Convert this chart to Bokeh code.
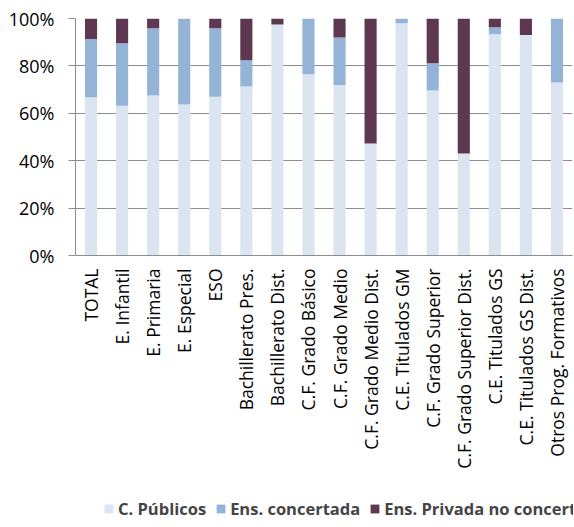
import math
from bokeh.plotting import figure
from bokeh.layouts import column
from bokeh.models import FixedTicker, PrintfTickFormatter, Legend, LegendItem, FactorRange
from bokeh.embed import file_html
from bokeh.resources import INLINE

categories = ["TOTAL", "E. Infantil", "E. Primaria", "E. Especial", "ESO",
              "Bachillerato Pres.", "Bachillerato Dist.", "C.F. Grado Básico",
              "C.F. Grado Medio", "C.F. Grado Medio Dist.", "C.E. Titulados GM",
              "C.F. Grado Superior", "C.F. Grado Superior Dist.", "C.E. Titulados GS",
              "C.E. Titulados GS Dist.", "Otros Prog. Formativos"]
publicos = [66.8, 63.2, 67.5, 63.7, 67.0, 71.3, 97.5, 76.5, 71.9, 47.3, 98.0, 69.6, 43.0, 93.4, 93.0, 73.0]
concertada = [24.6, 26.4, 28.4, 36.3, 28.9, 11.1, 0.0, 23.5, 20.1, 0.0, 2.0, 11.5, 0.0, 2.9, 0.0, 27.0]
privada = [8.6, 10.4, 4.1, 0.0, 4.1, 17.6, 2.5, 0.0, 8.0, 52.7, 0.0, 18.9, 57.0, 3.7, 7.0, 0.0]
series = ["C. Públicos", "Ens. concertada", "Ens. Privada no concertada"]
colors = ["#dbe5f1", "#95b3d7", "#5e3751"]
yticks = [0, 20, 40, 60, 80, 100]

data = {"cat": categories, "C. Públicos": publicos, "Ens. concertada": concertada,
        "Ens. Privada no concertada": privada}

p = figure(x_range=FactorRange(*categories), y_range=(0, 100),
           frame_width=497, frame_height=237,
           output_backend="svg", toolbar_location=None,
           min_border_left=75, min_border_top=18, min_border_right=1, min_border_bottom=243)
p.outline_line_color = None
p.background_fill_color = "white"
p.border_fill_color = "white"

r = p.vbar_stack(series, x="cat", width=0.39, color=colors, source=data, line_color=None)

p.x_range.range_padding = 0
p.xgrid.grid_line_color = None
p.ygrid.grid_line_color = "#8c8c8c"
p.ygrid.grid_line_width = 1
p.yaxis.ticker = FixedTicker(ticks=yticks)
p.yaxis.formatter = PrintfTickFormatter(format="%d%%")
p.yaxis.axis_line_color = "#8c8c8c"
p.yaxis.major_tick_line_color = "#8c8c8c"
p.yaxis.major_tick_out = 7
p.yaxis.major_tick_in = 0
p.yaxis.minor_tick_line_color = None
p.yaxis.major_label_standoff = 14
p.yaxis.major_label_text_font = "Open Sans"
p.yaxis.major_label_text_font_size = "18px"
p.yaxis.major_label_text_color = "#000000"

p.xaxis.axis_line_color = "#8c8c8c"
p.xaxis.major_tick_line_color = None
p.xaxis.minor_tick_line_color = None
p.xaxis.major_label_orientation = math.pi / 2
p.xaxis.major_label_standoff = 7
p.xaxis.major_label_text_font = "Open Sans"
p.xaxis.major_label_text_font_size = "17.5px"
p.xaxis.major_label_text_color = "#000000"

# legend strip below the chart (zero-size placeholder renderers give the swatches)
q = figure(width=574, height=24, output_backend="svg", toolbar_location=None,
           min_border=0, x_axis_type=None, y_axis_type=None)
q.outline_line_color = None
q.xgrid.grid_line_color = None
q.ygrid.grid_line_color = None
dummies = [q.quad(left=[0], right=[0], top=[0], bottom=[0], fill_color=c, line_color=None)
           for c in colors]
items = [LegendItem(label=s, renderers=[rr]) for s, rr in zip(series, dummies)]
legend = Legend(items=items, orientation="horizontal", location=(28, 2),
                glyph_width=11, glyph_height=11, label_standoff=4, spacing=9,
                border_line_color=None, background_fill_alpha=0,
                label_text_font="Open Sans", label_text_font_style="bold",
                label_text_font_size="16.5px", margin=0, padding=0)
q.add_layout(legend, "center")

layout = column(p, q, spacing=0)
open("out.html", "w").write(file_html(layout, INLINE))
